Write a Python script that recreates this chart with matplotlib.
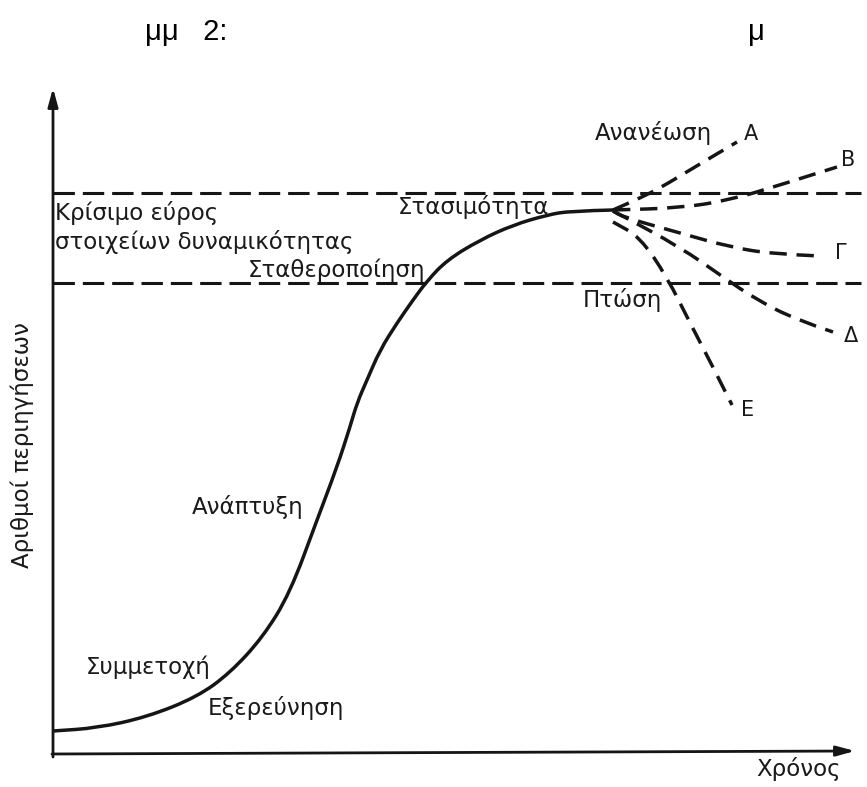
import matplotlib
matplotlib.use("Agg")
import matplotlib.pyplot as plt
from matplotlib.path import Path
from matplotlib.patches import PathPatch

plt.rcParams['font.family'] = ['DejaVu Sans']

# ---- data (arbitrary units: time 0..802, visitors 0..666) ----
main_t = [0, 44, 94, 144, 177, 210, 237, 264, 284, 297, 304, 314, 327, 344, 360, 374, 394, 427, 460, 494, 517, 560]
main_v = [23, 26, 37, 57, 81, 117, 161, 234, 287, 327, 351, 374, 404, 431, 454, 473, 494, 514, 529, 539, 543, 544]

A_t = [560, 587, 607, 637, 662, 684]
A_v = [544, 556, 566, 584, 599, 612]
B_t = [560, 627, 677, 727, 784]
B_v = [544, 546, 554, 569, 587]
G_t = [560, 570, 627, 677, 720, 767]
G_v = [543, 537, 521, 507, 500, 498]
D_t = [560, 564, 627, 670, 704, 744, 780]
D_v = [543, 541, 507, 477, 454, 434, 422]
E_t = [560, 587, 614, 637, 660, 679]
E_v = [532, 517, 477, 431, 387, 349]

upper_level = 561
lower_level = 471

branch_labels = ['Α', 'Β', 'Γ', 'Δ', 'Ε']
branch_label_t = [691, 788, 782, 791, 688]
branch_label_v = [620, 594, 501, 418, 344]

stage_texts = ['Ανανέωση', 'Στασιμότητα', 'Σταθεροποίηση', 'Πτώση', 'Ανάπτυξη', 'Συμμετοχή', 'Εξερεύνηση']
stage_t = [600, 420, 372, 569, 195, 95, 223]
stage_v = [621, 547, 484, 454, 247, 87, 46]
stage_ha = ['center', 'center', 'right', 'center', 'center', 'center', 'center']

range_lines = ['Κρίσιμο εύρος', 'στοιχείων δυναμικότητας']
range_t = [2, 2]
range_v = [541, 512]

x_label = 'Χρόνος'
y_label = 'Αριθμοί περιηγήσεων'
title_left = 'μμ   2:'
title_right = 'μ'

# ---- figure ----
W, H = 867, 787
fig = plt.figure(figsize=(W / 100, H / 100), dpi=100)
ax = fig.add_axes([53 / W, (H - 754) / H, 802 / W, 666 / H])
ax.set_xlim(0, 802)
ax.set_ylim(0, 666)
ax.axis('off')

ink = '#151515'
txt = '#1a1a1a'


def smooth_path(ts, vs):
    """Quadratic B-spline style rendering through the given points (curve drawing only)."""
    pts = list(zip(ts, vs))
    verts = [pts[0]]
    codes = [Path.MOVETO]
    if len(pts) == 2:
        verts.append(pts[1]); codes.append(Path.LINETO)
        return Path(verts, codes)
    mid = lambda a, b: ((a[0] + b[0]) / 2, (a[1] + b[1]) / 2)
    verts.append(mid(pts[0], pts[1])); codes.append(Path.LINETO)
    for i in range(1, len(pts) - 1):
        end = mid(pts[i], pts[i + 1]) if i < len(pts) - 2 else pts[i + 1]
        verts += [pts[i], end]
        codes += [Path.CURVE3, Path.CURVE3]
    return Path(verts, codes)


# axes with arrows
ax.annotate('', xy=(0, 666), xytext=(0, -3),
            arrowprops=dict(arrowstyle='-|>,head_length=1.1,head_width=0.3', lw=2.0, color=ink,
                            shrinkA=0, shrinkB=0), annotation_clip=False)
ax.annotate('', xy=(802, 3), xytext=(-1, 0),
            arrowprops=dict(arrowstyle='-|>,head_length=1.1,head_width=0.3', lw=2.0, color=ink,
                            shrinkA=0, shrinkB=0), annotation_clip=False)

# horizontal dashed capacity lines
for lvl in (upper_level, lower_level):
    ax.plot([0, 808], [lvl, lvl], color=ink, lw=2.2, dashes=(7, 2.6),
            solid_capstyle='butt', clip_on=False)

# main curve
ax.add_patch(PathPatch(smooth_path(main_t, main_v), fill=False, edgecolor=ink, lw=2.5,
                       joinstyle='round', capstyle='round'))

# branches
for bt, bv in ((A_t, A_v), (B_t, B_v), (G_t, G_v), (D_t, D_v), (E_t, E_v)):
    ax.add_patch(PathPatch(smooth_path(bt, bv), fill=False, edgecolor=ink, lw=2.5,
                           linestyle=(0, (5.0, 2.8)), clip_on=False))

fs = 16.5
for lab, t, v in zip(branch_labels, branch_label_t, branch_label_v):
    ax.text(t, v, lab, fontsize=15, color=txt, ha='left', va='center', clip_on=False)

for s, t, v, ha in zip(stage_texts, stage_t, stage_v, stage_ha):
    ax.text(t, v, s, fontsize=fs, color=txt, ha=ha, va='center')

for s, t, v in zip(range_lines, range_t, range_v):
    ax.text(t, v, s, fontsize=fs, color=txt, ha='left', va='center')

fig.text(799 / W, 1 - 769 / H, x_label, fontsize=fs, color=txt, ha='center', va='center')
fig.text(22 / W, 1 - 445 / H, y_label, fontsize=fs, color=txt, ha='center', va='center', rotation=90)

tfam = ['Liberation Sans Narrow', 'Liberation Sans', 'DejaVu Sans']
fig.text(145 / W, 1 - 32 / H, title_left, fontsize=21, color='black', ha='left', va='center', family=tfam)
fig.text(748 / W, 1 - 32 / H, title_right, fontsize=21, color='black', ha='left', va='center', family=tfam)

fig.savefig('out.png', dpi=100, facecolor='white')
